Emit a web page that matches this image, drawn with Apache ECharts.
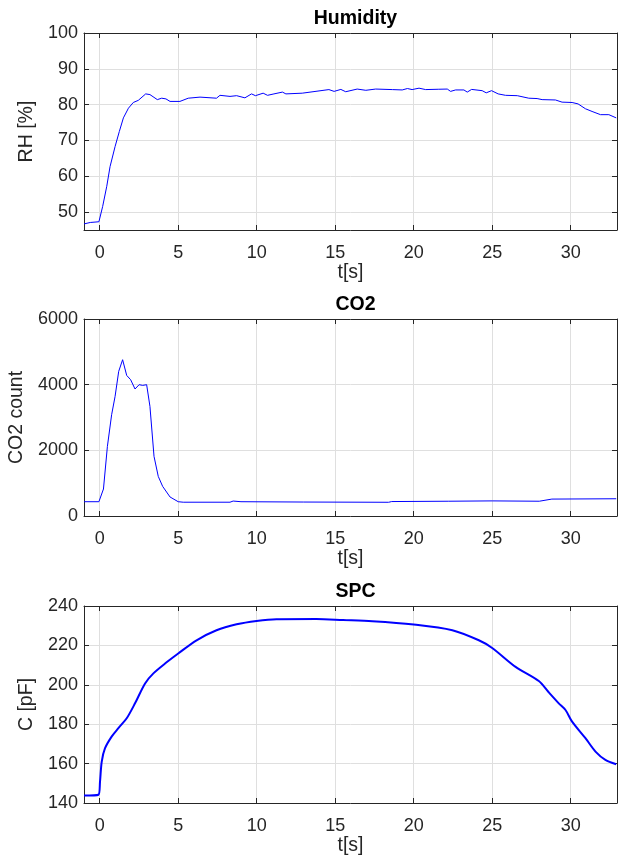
<!DOCTYPE html>
<html lang="en">
<head>
    <meta charset="UTF-8">
    <title>Humidity / CO2 / SPC</title>
    <script src="https://cdn.jsdelivr.net/npm/echarts@6/dist/echarts.min.js"></script>
    <style>
        html, body { margin: 0; padding: 0; background: #fff; }
    </style>
</head>
<body>
<div id="main" style="width: 618px;height:861px;"></div>
<script>
    // Humidity, t[s] -> RH [%]
    var humT  = [-1.0, -0.6, -0.05, 0.19, 0.45, 0.66, 0.98, 1.25, 1.51, 1.83, 2.14, 2.46, 2.93, 3.2, 3.67, 3.95, 4.22, 4.48, 5.11, 5.64, 6.39, 7.44, 7.66, 8.3, 8.72, 9.25, 9.67, 9.92, 10.41, 10.69, 11.1, 11.64, 11.86, 12.9, 14.6, 14.93, 15.36, 15.67, 16.4, 16.95, 17.58, 18.64, 19.27, 19.6, 19.9, 20.34, 20.76, 21.6, 22.14, 22.35, 22.67, 23.2, 23.41, 23.69, 24.36, 24.62, 24.96, 25.38, 25.85, 26.6, 27.33, 27.86, 28.18, 29.03, 29.45, 30.09, 30.47, 30.94, 31.36, 31.9, 32.43, 32.9];
    var humRH = [46.7, 47.1, 47.3, 51.6, 57.2, 62.7, 68.3, 72.5, 76.3, 79.0, 80.6, 81.2, 83.0, 82.8, 81.4, 81.8, 81.6, 80.9, 80.9, 81.8, 82.1, 81.8, 82.6, 82.3, 82.5, 81.9, 83.0, 82.5, 83.2, 82.6, 83.0, 83.5, 83.0, 83.2, 84.2, 83.7, 84.25, 83.6, 84.35, 84.0, 84.35, 84.2, 84.1, 84.5, 84.2, 84.6, 84.2, 84.3, 84.35, 83.7, 84.1, 84.1, 83.5, 84.25, 83.9, 83.3, 83.9, 83.0, 82.6, 82.5, 81.8, 81.7, 81.4, 81.3, 80.7, 80.6, 80.2, 78.85, 78.1, 77.2, 77.2, 76.3];

    // CO2, t[s] -> count
    var co2T   = [-1.0, -0.05, 0.24, 0.49, 0.76, 0.98, 1.21, 1.46, 1.72, 1.97, 2.25, 2.51, 2.74, 2.99, 3.2, 3.46, 3.73, 4.01, 4.48, 5.0, 5.32, 8.3, 8.5, 9.0, 13.0, 18.4, 18.6, 22.2, 25.0, 28.0, 28.8, 32.9];
    var co2Val = [435, 435, 822, 2120, 3085, 3643, 4404, 4760, 4282, 4151, 3868, 3999, 3978, 3999, 3338, 1815, 1206, 902, 579, 435, 420, 420, 455, 435, 425, 418, 440, 450, 460, 450, 515, 525];

    // SPC, t[s] -> C [pF]
    var spcT = [-1.0, -0.08, 0.02, 0.13, 0.34, 0.76, 1.19, 1.72, 2.25, 2.89, 3.42, 4.26, 5.0, 6.17, 7.44, 8.72, 9.99, 11.26, 13.8, 15.5, 17.37, 20.0, 22.46, 24.15, 25.0, 26.49, 27.97, 28.6, 29.24, 29.67, 30.09, 30.94, 31.58, 32.21, 32.9];
    var spcC = [143.8, 144.2, 150.9, 161.05, 167.8, 173.7, 178.0, 183.0, 190.6, 200.7, 205.8, 211.4, 215.9, 222.6, 227.7, 230.7, 232.4, 233.3, 233.4, 232.9, 232.3, 230.6, 227.7, 222.6, 218.7, 209.1, 201.9, 196.2, 190.6, 187.2, 181.3, 172.9, 166.1, 161.9, 159.7];

    var titles = ['Humidity', 'CO2', 'SPC'];
    var yNames = ['RH [%]', 'CO2 count', 'C [pF]'];
    var xName = 't[s]';

    var FONT = 'Liberation Sans, Arial, sans-serif';
    var INK = '#262626';
    var gridTops = [33, 319, 606];
    var gridH = 197;

    function pairs(xs, ys) {
        var out = [];
        for (var i = 0; i < xs.length; i++) out.push([xs[i], ys[i]]);
        return out;
    }

    var yCfg = [
        {min: 45, max: 100, splitNumber: 6, nameGap: 40},
        {min: 0, max: 6000, interval: 2000, nameGap: 52},
        {min: 140, max: 240, interval: 20, nameGap: 41}
    ];

    var grids = [], xAxes = [], yAxes = [], series = [], titleList = [];
    for (var i = 0; i < 3; i++) {
        grids.push({left: 84, right: 1, top: gridTops[i], height: gridH, outerBoundsMode: 'none', containLabel: false});
        titleList.push({
            text: titles[i], left: 350.5, top: gridTops[i] - 29, textAlign: 'center',
            textStyle: {fontFamily: FONT, fontSize: 19.5, fontWeight: 'bold', color: '#000'}
        });
        // bottom x axis
        xAxes.push({
            type: 'value', gridIndex: i, min: -1, max: 32.95, splitNumber: 7,
            name: xName, nameLocation: 'middle', nameGap: 33,
            nameTextStyle: {fontFamily: FONT, fontSize: 19.5, color: INK},
            axisLine: {lineStyle: {color: INK, width: 1}},
            axisTick: {inside: true, length: 5, lineStyle: {color: INK}},
            axisLabel: {fontFamily: FONT, fontSize: 18, color: INK, margin: 14, showMinLabel: false, showMaxLabel: false},
            splitLine: {show: true, lineStyle: {color: '#dfdfdf', width: 1}}
        });
        // top x axis (box)
        xAxes.push({
            type: 'value', gridIndex: i, position: 'top', min: -1, max: 32.95, splitNumber: 7,
            axisLine: {onZero: false, lineStyle: {color: INK, width: 1}},
            axisTick: {inside: true, length: 5, lineStyle: {color: INK}},
            axisLabel: {show: false},
            splitLine: {show: false}
        });
        var yl = {
            type: 'value', gridIndex: i, min: yCfg[i].min, max: yCfg[i].max,
            name: yNames[i], nameLocation: 'middle', nameGap: yCfg[i].nameGap,
            nameTextStyle: {fontFamily: FONT, fontSize: 19.5, color: INK},
            axisLine: {show: true, onZero: false, lineStyle: {color: INK, width: 1}},
            axisTick: {show: true, inside: true, length: 5, lineStyle: {color: INK}},
            axisLabel: {
                fontFamily: FONT, fontSize: 18, color: INK, margin: 6, showMinLabel: i > 0,
                formatter: function (v) { return String(v); }
            },
            splitLine: {show: true, lineStyle: {color: '#dfdfdf', width: 1}}
        };
        var yr = {
            type: 'value', gridIndex: i, position: 'right', min: yCfg[i].min, max: yCfg[i].max,
            axisLine: {show: true, onZero: false, lineStyle: {color: INK, width: 1}},
            axisTick: {show: true, inside: true, length: 5, lineStyle: {color: INK}},
            axisLabel: {show: false},
            splitLine: {show: false}
        };
        if (yCfg[i].interval) { yl.interval = yCfg[i].interval; yr.interval = yCfg[i].interval; }
        else { yl.splitNumber = yCfg[i].splitNumber; yr.splitNumber = yCfg[i].splitNumber; }
        yAxes.push(yl, yr);
    }

    var lineData = [pairs(humT, humRH), pairs(co2T, co2Val), pairs(spcT, spcC)];
    var widths = [1, 1, 2];
    for (var k = 0; k < 3; k++) {
        series.push({
            type: 'line', xAxisIndex: k * 2, yAxisIndex: k * 2,
            data: lineData[k], showSymbol: false, symbol: 'none',
            smooth: k === 2 ? 0.3 : false,
            lineStyle: {color: '#0000ff', width: widths[k]},
            animation: false
        });
    }

    var myChart = echarts.init(document.getElementById('main'));
    myChart.setOption({
        backgroundColor: '#fff',
        animation: false,
        title: titleList,
        grid: grids,
        xAxis: xAxes,
        yAxis: yAxes,
        series: series
    });
</script>
</body>
</html>
